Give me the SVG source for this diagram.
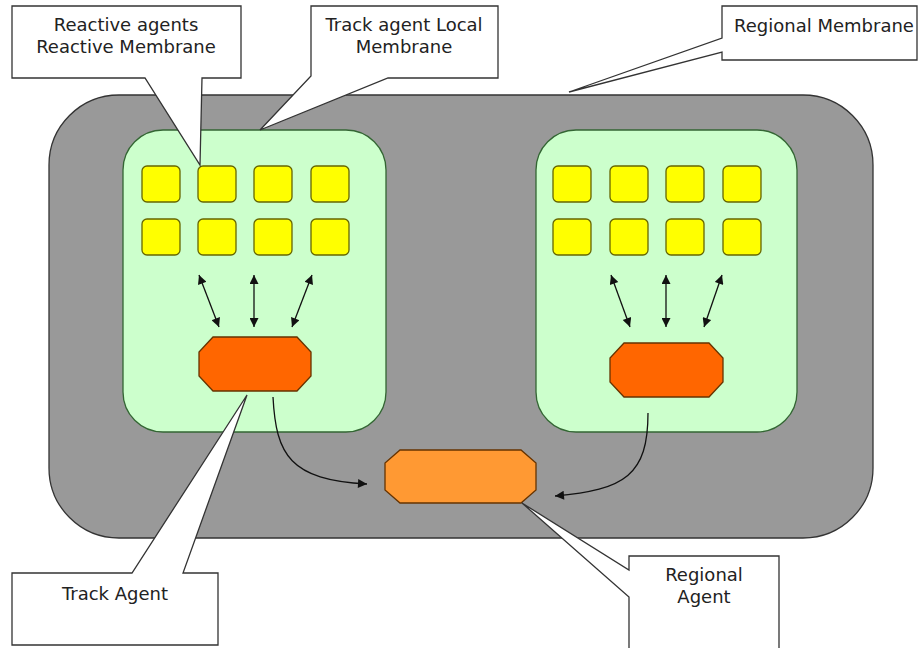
<svg xmlns="http://www.w3.org/2000/svg" width="919" height="648" viewBox="0 0 919 648">
<defs>
<style>
.outer{fill:#999999;stroke:#333333;stroke-width:1.3}
.memb{fill:#CCFFCC;stroke:#336633;stroke-width:1.3}
.ra{fill:#FFFF00;stroke:#666600;stroke-width:1.3}
.ta{fill:#FF6600;stroke:#663300;stroke-width:1.3}
.rg{fill:#FF9933;stroke:#663300;stroke-width:1.3}
.call{fill:#FFFFFF;stroke:#333333;stroke-width:1.3}
.lbl{font-family:"DejaVu Sans",Verdana,sans-serif;font-size:18px;fill:#222222;text-anchor:middle}
.conn{fill:none;stroke:#111111;stroke-width:1.3}
</style>
<marker id="ah" viewBox="0 0 10 10" refX="10" refY="5" markerWidth="11" markerHeight="9" markerUnits="userSpaceOnUse" orient="auto-start-reverse">
<path d="M0,0 L10,5 L0,10 Z" fill="#111111"/>
</marker>
</defs>
<rect width="919" height="648" fill="#FFFFFF"/>
<g id="regional-membrane">
<rect class="outer" x="49" y="95" width="824" height="443" rx="70" ry="70"/>
</g>
<g id="local-membrane-left">
<rect class="memb" x="123" y="130" width="263" height="302" rx="40" ry="40"/>
</g>
<g id="local-membrane-right">
<rect class="memb" x="536" y="130" width="261" height="302" rx="40" ry="40"/>
</g>
<g id="reactive-agents-left">
<rect class="ra" x="142" y="166" width="38" height="36" rx="5"/>
<rect class="ra" x="198" y="166" width="38" height="36" rx="5"/>
<rect class="ra" x="254" y="166" width="38" height="36" rx="5"/>
<rect class="ra" x="311" y="166" width="38" height="36" rx="5"/>
<rect class="ra" x="142" y="219" width="38" height="36" rx="5"/>
<rect class="ra" x="198" y="219" width="38" height="36" rx="5"/>
<rect class="ra" x="254" y="219" width="38" height="36" rx="5"/>
<rect class="ra" x="311" y="219" width="38" height="36" rx="5"/>
</g>
<g id="reactive-agents-right">
<rect class="ra" x="553" y="166" width="38" height="36" rx="5"/>
<rect class="ra" x="610" y="166" width="38" height="36" rx="5"/>
<rect class="ra" x="666" y="166" width="38" height="36" rx="5"/>
<rect class="ra" x="723" y="166" width="38" height="36" rx="5"/>
<rect class="ra" x="553" y="219" width="38" height="36" rx="5"/>
<rect class="ra" x="610" y="219" width="38" height="36" rx="5"/>
<rect class="ra" x="666" y="219" width="38" height="36" rx="5"/>
<rect class="ra" x="723" y="219" width="38" height="36" rx="5"/>
</g>
<g id="track-agent-left">
<polygon class="ta" points="213,337 297,337 311,352 311,376 297,391 213,391 199,376 199,352"/>
</g>
<g id="track-agent-right">
<polygon class="ta" points="624,343 709,343 723,358 723,382 709,397 624,397 610,382 610,358"/>
</g>
<g id="regional-agent">
<polygon class="rg" points="400,450 521,450 536,463 536,490 521,503 400,503 385,490 385,463"/>
</g>
<g id="connectors">
<line class="conn" x1="199" y1="275" x2="219" y2="327" marker-start="url(#ah)" marker-end="url(#ah)"/>
<line class="conn" x1="254" y1="275" x2="254" y2="327" marker-start="url(#ah)" marker-end="url(#ah)"/>
<line class="conn" x1="312" y1="275" x2="292" y2="327" marker-start="url(#ah)" marker-end="url(#ah)"/>
<line class="conn" x1="611" y1="275" x2="630" y2="327" marker-start="url(#ah)" marker-end="url(#ah)"/>
<line class="conn" x1="666" y1="275" x2="666" y2="327" marker-start="url(#ah)" marker-end="url(#ah)"/>
<line class="conn" x1="722" y1="275" x2="704" y2="327" marker-start="url(#ah)" marker-end="url(#ah)"/>
<path class="conn" d="M273,397 C276,455 290,480 367,484" marker-end="url(#ah)"/>
<path class="conn" d="M648,413 C648,475 625,490 555,496" marker-end="url(#ah)"/>
</g>
<g id="callout-reactive">
<path class="call" d="M12,6 H241 V78 H202 L200,165 L145,78 H12 Z"/>
<text class="lbl" x="126" y="31">Reactive agents</text>
<text class="lbl" x="126" y="53">Reactive Membrane</text>
</g>
<g id="callout-local">
<path class="call" d="M311,6 H498 V78 H388 L260,130 L311,76 Z"/>
<text class="lbl" x="404" y="31">Track agent Local</text>
<text class="lbl" x="404" y="53">Membrane</text>
</g>
<g id="callout-regional-membrane">
<path class="call" d="M722,6 H917 V60 H722 V52 L569,92 L722,38 Z"/>
<text class="lbl" x="824" y="32">Regional Membrane</text>
</g>
<g id="callout-track-agent">
<path class="call" d="M12,573 H132 L247,395 L183,573 H218 V645 H12 Z"/>
<text class="lbl" x="115" y="600">Track Agent</text>
</g>
<g id="callout-regional-agent">
<path class="call" d="M629,556 H779 V660 H629 V597 L522,503 L629,570 Z"/>
<text class="lbl" x="704" y="581">Regional</text>
<text class="lbl" x="704" y="603">Agent</text>
</g>
</svg>
